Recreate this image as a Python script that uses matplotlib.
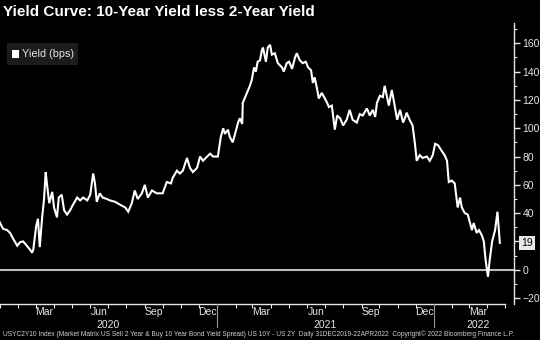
import matplotlib
matplotlib.use("Agg")
import matplotlib.pyplot as plt
from matplotlib.patches import Rectangle
import pandas as pd

# -----------------------------
# Series: US 10Y - US 2Y spread (bps)
# -----------------------------
dates = [
    "2019-12-31", "2020-01-06", "2020-01-13", "2020-01-18", "2020-01-23", "2020-01-30",
    "2020-02-04", "2020-02-09", "2020-02-15", "2020-02-21", "2020-02-24", "2020-02-26",
    "2020-03-02", "2020-03-05", "2020-03-08", "2020-03-12", "2020-03-15", "2020-03-18",
    "2020-03-20", "2020-03-24", "2020-03-29", "2020-04-01", "2020-04-06", "2020-04-09",
    "2020-04-14", "2020-04-18", "2020-04-23", "2020-04-28", "2020-05-03", "2020-05-10",
    "2020-05-15", "2020-05-20", "2020-05-27", "2020-06-01", "2020-06-06", "2020-06-09",
    "2020-06-12", "2020-06-17", "2020-06-22", "2020-06-29", "2020-07-04", "2020-07-13",
    "2020-07-21", "2020-07-30", "2020-08-04", "2020-08-10", "2020-08-15", "2020-08-20",
    "2020-08-27", "2020-09-01", "2020-09-06", "2020-09-13", "2020-09-21", "2020-10-01",
    "2020-10-08", "2020-10-15", "2020-10-18", "2020-10-25", "2020-10-30", "2020-11-04",
    "2020-11-11", "2020-11-16", "2020-11-21", "2020-11-28", "2020-12-03", "2020-12-08",
    "2020-12-15", "2020-12-20", "2020-12-25", "2021-01-02", "2021-01-07", "2021-01-11",
    "2021-01-14", "2021-01-19", "2021-01-22", "2021-01-27", "2021-01-31", "2021-02-05",
    "2021-02-08", "2021-02-12", "2021-02-13", "2021-02-20", "2021-02-22", "2021-02-25",
    "2021-02-28", "2021-03-04", "2021-03-07", "2021-03-10", "2021-03-14", "2021-03-17",
    "2021-03-19", "2021-03-24", "2021-03-27", "2021-03-31", "2021-04-03", "2021-04-08",
    "2021-04-13", "2021-04-20", "2021-04-23", "2021-04-28", "2021-05-02", "2021-05-07",
    "2021-05-12", "2021-05-15", "2021-05-20", "2021-05-25", "2021-05-30", "2021-06-03",
    "2021-06-08", "2021-06-11", "2021-06-14", "2021-06-18", "2021-06-21", "2021-06-26",
    "2021-06-30", "2021-07-05", "2021-07-08", "2021-07-13", "2021-07-18", "2021-07-22",
    "2021-07-27", "2021-08-01", "2021-08-07", "2021-08-12", "2021-08-17", "2021-08-24",
    "2021-08-29", "2021-09-03", "2021-09-10", "2021-09-15", "2021-09-20", "2021-09-24",
    "2021-09-27", "2021-10-02", "2021-10-07", "2021-10-10", "2021-10-14", "2021-10-17",
    "2021-10-22", "2021-10-26", "2021-10-31", "2021-11-05", "2021-11-10", "2021-11-13",
    "2021-11-16", "2021-11-21", "2021-11-26", "2021-11-30", "2021-12-03", "2021-12-08",
    "2021-12-13", "2021-12-20", "2021-12-25", "2021-12-30", "2022-01-03", "2022-01-08",
    "2022-01-14", "2022-01-19", "2022-01-23", "2022-01-26", "2022-01-31", "2022-02-05",
    "2022-02-10", "2022-02-14", "2022-02-17", "2022-02-22", "2022-02-27", "2022-03-06",
    "2022-03-09", "2022-03-14", "2022-03-18", "2022-03-23", "2022-03-26", "2022-03-29",
    "2022-04-02", "2022-04-05", "2022-04-09", "2022-04-14", "2022-04-18", "2022-04-20",
    "2022-04-22",
]
spread_bps = [
    34, 29, 28, 26, 22, 17,
    19.5, 20, 17, 14, 12, 14,
    31, 36, 16, 37, 49, 69,
    61, 47, 55, 44, 37, 51,
    53, 42, 39, 42, 46, 51,
    49, 51, 49, 53, 68, 61,
    48, 54, 51, 50, 49, 48,
    46, 44, 41, 47, 56, 50,
    54, 60, 51, 56, 54, 54,
    62, 61, 65, 70, 68, 70,
    79, 72, 69, 72, 80, 77,
    80, 82, 80, 80, 94, 100,
    96, 99, 94, 90, 96, 104,
    107, 103, 118, 125, 127, 130,
    134, 143, 140, 147, 148, 155,
    157, 147, 157, 159, 152, 153,
    146, 143, 140, 146, 147, 142,
    150, 153, 148, 146, 147, 143,
    141, 132, 136, 128, 121, 125,
    122, 118, 115, 116, 99, 109,
    107, 102, 106, 113, 106, 104,
    110, 109, 114, 109, 113, 108,
    118, 123, 122, 130, 122, 116,
    127, 118, 106, 113, 104, 107,
    111, 106, 102, 89, 77, 81,
    79, 80, 77, 81, 89, 88,
    84, 81, 77, 62, 63, 61,
    44, 51, 44, 40, 39, 28,
    33, 26, 28, 24, 20, 7,
    -5, 7, 20, 28, 41, 30,
    19,
]

month_labels = ["Mar", "Jun", "Sep", "Dec", "Mar", "Jun", "Sep", "Dec", "Mar"]
month_label_dates = ["2020-03-16", "2020-06-16", "2020-09-16", "2020-12-16",
                     "2021-03-16", "2021-06-16", "2021-09-16", "2021-12-16", "2022-03-16"]
year_labels = ["2020", "2021", "2022"]
year_label_dates = ["2020-07-01", "2021-07-01", "2022-03-16"]
year_breaks = ["2021-01-01", "2022-01-01"]

FG = "#e6e6e6"
FONT = "Liberation Sans"

x = pd.to_datetime(dates)

fig = plt.figure(figsize=(5.4, 3.4), dpi=100, facecolor="black")
ax = fig.add_axes([0.0, 0.106, 0.952, 0.826], facecolor="black")

ax.plot(x, spread_bps, color="white", linewidth=1.5, solid_joinstyle="miter", zorder=3)
ax.axhline(0, color="#bdbdbd", linewidth=1.5, zorder=2)

ax.set_xlim(pd.Timestamp("2020-01-01"), pd.Timestamp("2022-05-16"))
ax.set_ylim(-24.2, 174.3)

# right-hand value axis
for side in ("left", "top", "bottom"):
    ax.spines[side].set_visible(False)
ax.spines["right"].set_color(FG)
ax.spines["right"].set_linewidth(1.0)
ax.yaxis.tick_right()
ax.set_yticks(range(-20, 161, 20))
ax.set_yticks(range(-20, 171, 10), minor=True)
ax.tick_params(axis="y", which="major", colors=FG, length=4, width=1.0, pad=2, labelsize=7.5)
ax.tick_params(axis="y", which="minor", colors=FG, length=2, width=0.8)
for lbl in ax.get_yticklabels():
    lbl.set_fontfamily(FONT)

# month ticks on the time axis, axis line stops at the last month start
month_starts = pd.date_range("2020-01-01", "2022-05-01", freq="MS")
ax.set_xticks(month_starts)
ax.set_xticklabels([])
ax.tick_params(axis="x", colors=FG, length=3, width=0.8)
ax.plot([month_starts[0], month_starts[-1]], [0, 0], color=FG, linewidth=1.0,
        transform=ax.get_xaxis_transform(), clip_on=False)

xt = ax.get_xaxis_transform()
for d, lab in zip(month_label_dates, month_labels):
    ax.text(pd.Timestamp(d), -0.027, lab, transform=xt, ha="center", va="center",
            color=FG, fontsize=7.5, family=FONT)
for d, lab in zip(year_label_dates, year_labels):
    ax.text(pd.Timestamp(d), -0.075, lab, transform=xt, ha="center", va="center",
            color=FG, fontsize=7.5, family=FONT)
for d in year_breaks:
    ax.plot([pd.Timestamp(d)] * 2, [0, -0.083], color="#9a9a9a", linewidth=0.8,
            transform=xt, clip_on=False)

# last value tag
ax.annotate(f"{spread_bps[-1]:g}", xy=(1.0, spread_bps[-1]),
            xycoords=("axes fraction", "data"), xytext=(5, 0), textcoords="offset points",
            ha="left", va="center", fontsize=7.5, family=FONT, color="black",
            bbox=dict(boxstyle="square,pad=0.2", fc="#e8e8e8", ec="none"))

# legend
ax.add_patch(Rectangle((7 / 514, 1 - (65 - 23) / 281), 71 / 514, 22 / 281,
                       transform=ax.transAxes, facecolor="#1c1c1c", edgecolor="none", zorder=4))
ax.add_patch(Rectangle((12 / 514, 1 - (58 - 23) / 281), 7 / 514, 8 / 281,
                       transform=ax.transAxes, facecolor="white", edgecolor="none", zorder=5))
ax.text(22 / 514, 1 - (54 - 23) / 281, "Yield (bps)", transform=ax.transAxes,
        ha="left", va="center", color=FG, fontsize=7.8, family=FONT, zorder=5)

fig.text(3 / 540, 1 - 12 / 340, "Yield Curve: 10-Year Yield less 2-Year Yield",
         ha="left", va="center", color="white", fontsize=11, fontweight="bold", family=FONT)
fig.text(3 / 540, 1 - 334 / 340,
         "USYC2Y10 Index (Market Matrix US Sell 2 Year & Buy 10 Year Bond Yield Spread) US 10Y - US 2Y  "
         "Daily 31DEC2019-22APR2022  Copyright\u00a9 2022 Bloomberg Finance L.P.",
         ha="left", va="center", color="#cfcfcf", fontsize=4.8, family=FONT)

fig.savefig("out.png", dpi=100, facecolor="black")
